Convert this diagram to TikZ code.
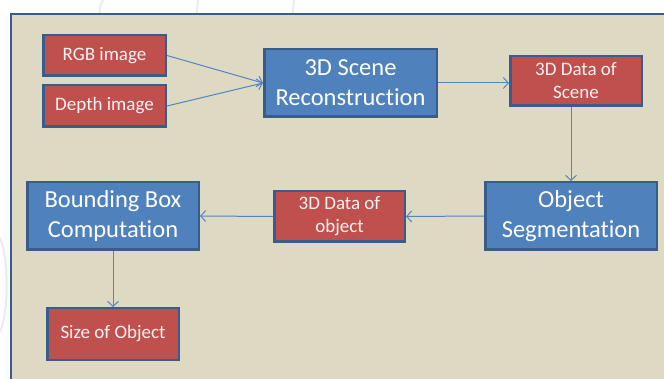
\documentclass[tikz,border=0pt]{standalone}
\usepackage{fontspec}
\setmainfont{Carlito}[Ligatures=NoCommon]
\usetikzlibrary{arrows.meta}
\definecolor{panelfill}{HTML}{DDD9C3}
\definecolor{panelline}{HTML}{385D8A}
\definecolor{bluefill}{HTML}{4F81BD}
\definecolor{redfill}{HTML}{C0504D}
\definecolor{boxline}{HTML}{385D8A}
\definecolor{arrowcol}{HTML}{5585C0}
\definecolor{wmark}{HTML}{EBEBEB}
\tikzset{
  bluebox/.style={draw=boxline, line width=2.5pt, fill=bluefill, text=white,
    inner sep=0pt, align=center, font=\fontsize{24.5}{30}\selectfont},
  redbox/.style={draw=boxline, line width=2.5pt, fill=redfill, text=white!95!red,
    inner sep=0pt, align=center, font=\fontsize{19}{23}\selectfont},
  conn/.style={draw=arrowcol, line width=1pt, -{Straight Barb[length=5pt,width=11pt,line width=1pt]}},
  wm/.style={draw=wmark, line width=2pt}
}
\begin{document}
\begin{tikzpicture}[x=1pt,y=-1pt]
\useasboundingbox (0,0) rectangle (664,379);
\clip (0,0) rectangle (664,379);
\fill[white] (0,0) rectangle (664,379);
% faint watermark
\draw[wm] (0,238) .. controls (9,260) and (9,310) .. (0,332);
\draw[wm] (103,0) .. controls (100,5) and (99,10) .. (100,14);
\draw[wm] (198,0) -- (197,14);
\draw[wm] (294,0) -- (293,14);
% panel
\draw[panelline, line width=1.5pt, fill=panelfill] (11,14) rectangle (680,395);
% nodes
\node[redbox, minimum width=122.5pt, minimum height=40.5pt] (rgb) at (104.5,55.5) {RGB image};
\node[redbox, minimum width=122.5pt, minimum height=41.5pt] (depth) at (104.5,106) {Depth image};
\node[bluebox, minimum width=172.5pt, minimum height=67.5pt] (recon) at (350.5,83) {3D Scene\\Reconstruction};
\node[redbox, minimum width=131.5pt, minimum height=49.5pt] (dscene) at (576,81) {3D Data of\\Scene};
\node[bluebox, minimum width=171.5pt, minimum height=67.5pt] (objseg) at (571,216) {Object\\Segmentation};
\node[redbox, minimum width=130.5pt, minimum height=50.5pt] (dobj) at (339.5,216.5) {3D Data of\\object};
\node[bluebox, minimum width=171.5pt, minimum height=67.5pt] (bbox) at (113,216) {Bounding Box\\Computation};
\node[redbox, minimum width=131.5pt, minimum height=51.5pt] (size) at (113,334) {Size of Object};
% connectors
\draw[conn] (rgb.east) -- (recon.west);
\draw[conn] (depth.east) -- (recon.west);
\draw[conn] (recon.east) -- (recon.east -| dscene.west);
\draw[conn] (dscene.south -| objseg.north) -- (objseg.north);
\draw[conn] (objseg.west) -- (dobj.east);
\draw[conn] (dobj.west) -- (bbox.east);
\draw[conn] (bbox.south) -- (size.north);
\end{tikzpicture}
\end{document}
